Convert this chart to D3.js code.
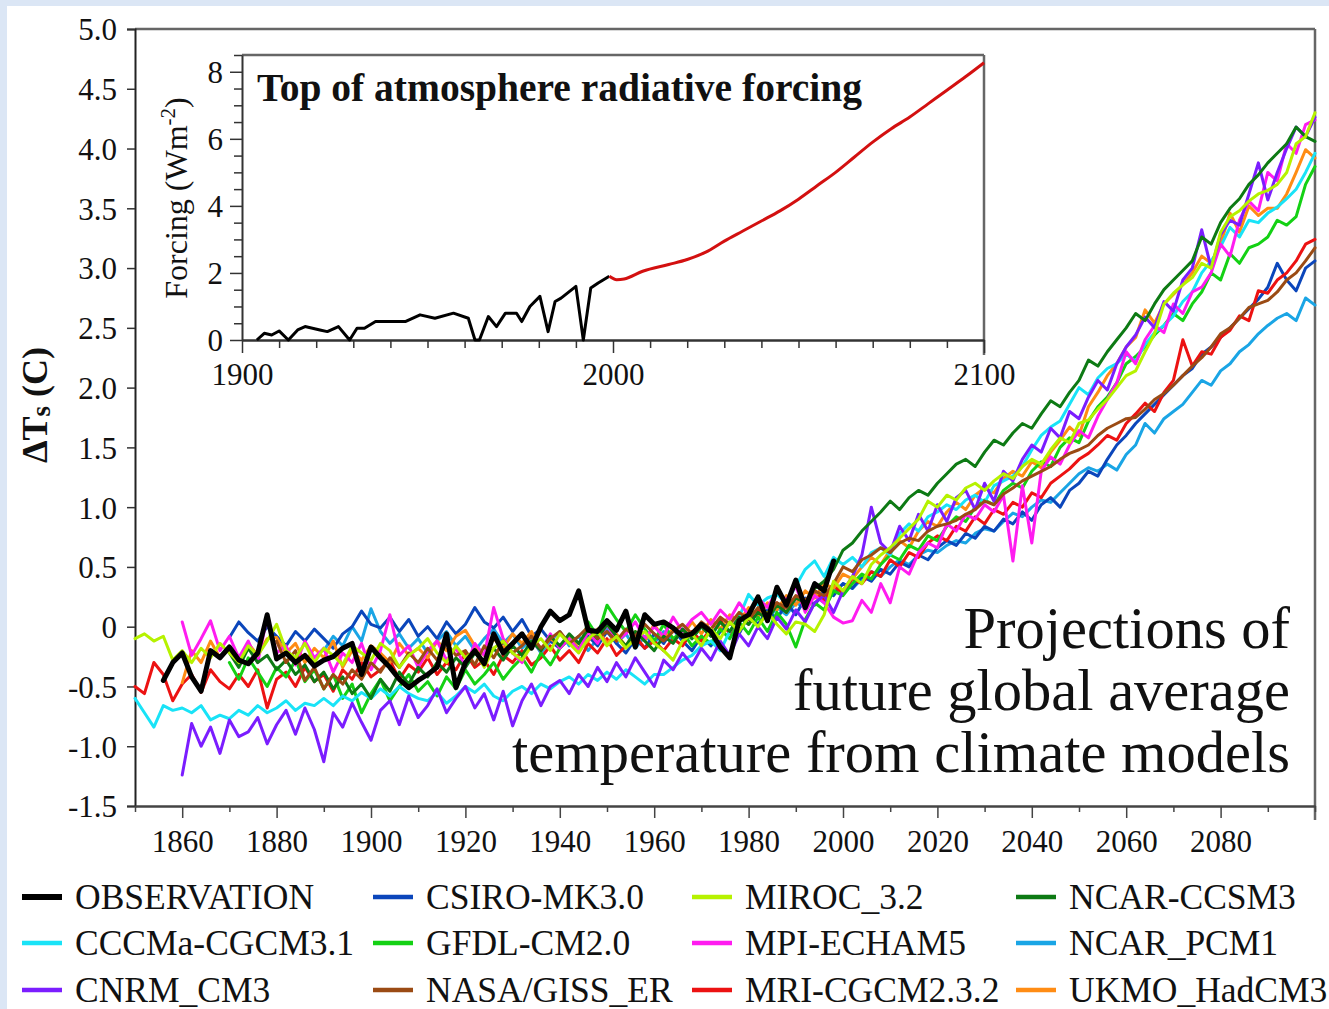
<!DOCTYPE html>
<html><head><meta charset="utf-8">
<script src="https://cdn.jsdelivr.net/npm/d3@7"></script>
<style>
html,body{margin:0;padding:0;background:#dbe6f5;}
svg{display:block;}
text{font-family:"Liberation Serif","Times New Roman",serif;fill:#111;}
</style></head><body>
<svg id="chart" width="1329" height="1009"></svg>
<script>
// ---------------- DATA ----------------
const yTickValues = [5.0,4.5,4.0,3.5,3.0,2.5,2.0,1.5,1.0,0.5,0,-0.5,-1.0,-1.5];
const yTickLabels = ["5.0","4.5","4.0","3.5","3.0","2.5","2.0","1.5","1.0","0.5","0","-0.5","-1.0","-1.5"];
const xMajorTicks = [1860,1880,1900,1920,1940,1960,1980,2000,2020,2040,2060,2080];
const xMinorTicks = [1850,1870,1890,1910,1930,1950,1970,1990,2010,2030,2050,2070,2090,2100];

const insetYMajor = [0,2,4,6,8];
const insetYMinor = [0.5,1,1.5,2.5,3,3.5,4.5,5,5.5,6.5,7,7.5,8.5];
const insetXLabels = [1900,2000,2100];
const insetXMinor = [1910,1920,1930,1940,1950,1960,1970,1980,1990,2010,2020,2030,2040,2050,2060,2070,2080,2090];

// Inset: top of atmosphere radiative forcing (W m-2)
const forcingHistYears = [1904,1906,1908,1910,1912.5,1915,1917,1921,1923,1926,1929,1931,1933,1936,1940,1944,1948,1952,1957,1961,1962.8,1964,1966.4,1968.6,1971,1974,1975.4,1977.6,1980.3,1982.5,1984.4,1986,1990,1992,1994,1996,1999];
const forcingHistVals  = [0.0,0.2,0.15,0.27,0.0,0.3,0.4,0.3,0.25,0.4,0.0,0.35,0.35,0.55,0.55,0.55,0.75,0.65,0.8,0.65,0.0,0.0,0.7,0.4,0.8,0.8,0.55,1.0,1.3,0.25,1.15,1.25,1.6,0.0,1.55,1.7,1.9];
const forcingProjYears = [1999,2001,2003,2008,2015,2020,2025,2030,2035,2040,2045,2050,2055,2060,2065,2070,2075,2080,2085,2090,2095,2100];
const forcingProjVals  = [1.9,1.8,1.82,2.05,2.25,2.4,2.62,2.95,3.25,3.55,3.85,4.2,4.6,5.0,5.45,5.9,6.3,6.65,7.05,7.45,7.85,8.27];

// Observation (every 2 years from 1856)
const obsStart = 1856;
const obsVals = [-0.45,-0.30,-0.22,-0.42,-0.54,-0.20,-0.26,-0.17,-0.28,-0.31,-0.22,0.10,-0.27,-0.22,-0.30,-0.24,-0.33,-0.28,-0.25,-0.18,-0.14,-0.40,
 -0.17,-0.26,-0.34,-0.44,-0.51,-0.45,-0.40,-0.34,-0.06,-0.51,-0.30,-0.20,-0.31,-0.06,-0.22,-0.14,-0.06,-0.18,0.00,0.13,0.05,0.10,0.30,-0.03,-0.04,0.05,-0.03,0.13,
 -0.17,0.10,0.02,0.04,-0.01,-0.08,-0.06,0.02,-0.04,-0.17,-0.26,0.05,0.10,0.25,0.05,0.33,0.18,0.39,0.16,0.36,0.30,0.55];

// Models (every 2 years from start year to 2100)
const cccmaVals = [-0.60,-0.72,-0.84,-0.66,-0.70,-0.68,-0.72,-0.66,-0.78,-0.74,-0.77,
 -0.70,-0.74,-0.66,-0.72,-0.68,-0.62,-0.70,-0.64,-0.66,-0.60,-0.66,-0.58,-0.62,-0.55,-0.60,
 -0.52,-0.58,-0.50,-0.56,-0.60,-0.62,-0.55,-0.64,-0.58,-0.50,-0.55,-0.48,-0.58,-0.62,-0.54,
 -0.50,-0.56,-0.48,-0.52,-0.46,-0.42,-0.48,-0.40,-0.45,-0.38,-0.44,-0.36,-0.42,-0.48,-0.40,
 -0.40,-0.34,-0.28,-0.24,-0.16,-0.12,-0.20,-0.04,0.08,0.27,0.18,0.24,0.27,0.20,0.34,
 0.48,0.55,0.42,0.58,0.52,0.58,0.50,0.62,0.66,0.60,0.78,0.86,0.80,0.92,0.96,
 1.02,0.98,1.06,1.10,1.04,1.18,1.22,1.26,1.34,1.48,1.60,1.67,1.72,1.86,2.00,
 1.94,2.08,2.16,2.20,2.28,2.22,2.36,2.46,2.52,2.60,2.72,2.80,2.96,3.06,3.18,
 3.34,3.26,3.40,3.38,3.46,3.51,3.58,3.66,3.80,3.96];
const mirocVals = [-0.10,-0.06,-0.12,-0.08,-0.28,-0.20,-0.30,-0.18,-0.26,-0.14,-0.22,
 -0.30,-0.16,-0.24,-0.12,0.02,-0.20,-0.26,-0.14,-0.30,-0.18,-0.24,-0.32,-0.16,-0.22,-0.28,
 -0.14,-0.20,-0.34,-0.24,-0.18,-0.10,-0.22,-0.30,-0.16,-0.26,-0.20,-0.34,-0.18,-0.12,-0.22,
 -0.28,-0.16,-0.10,-0.20,-0.06,-0.14,-0.22,-0.10,-0.04,-0.16,-0.08,-0.18,-0.10,-0.04,-0.14,
 -0.20,-0.28,-0.12,-0.06,-0.16,-0.02,-0.10,0.04,-0.04,0.08,0.00,0.12,0.02,-0.06,0.04,
 0.02,-0.04,0.10,0.38,0.30,0.42,0.36,0.52,0.60,0.66,0.74,0.82,0.90,1.05,1.00,
 1.10,1.06,1.16,1.20,1.14,1.22,1.28,1.24,1.34,1.40,1.36,1.48,1.58,1.54,1.70,
 1.73,1.82,1.90,2.00,2.10,2.14,2.30,2.45,2.70,2.79,2.86,2.92,3.04,3.00,3.30,
 3.43,3.48,3.56,3.62,3.65,3.70,3.80,4.04,4.10,4.30];
const mriVals = [-0.50,-0.56,-0.30,-0.40,-0.62,-0.48,-0.40,-0.55,-0.36,-0.46,-0.52,
 -0.40,-0.50,-0.36,-0.68,-0.44,-0.38,-0.50,-0.34,-0.46,-0.40,-0.54,-0.36,-0.44,-0.30,-0.42,
 -0.36,-0.28,-0.44,-0.32,-0.38,-0.26,-0.40,-0.30,-0.36,-0.22,-0.34,-0.28,-0.40,-0.24,-0.30,
 -0.20,-0.32,-0.26,-0.16,-0.28,-0.20,-0.30,-0.14,-0.22,-0.10,-0.24,-0.16,-0.08,-0.18,-0.12,
 -0.20,-0.10,-0.16,-0.04,-0.12,-0.02,0.06,-0.06,0.10,0.02,0.14,0.08,0.20,0.12,0.24,
 0.18,0.30,0.22,0.34,0.28,0.40,0.36,0.46,0.42,0.56,0.50,0.62,0.58,0.70,0.76,
 0.72,0.84,0.80,0.92,0.86,0.98,0.94,1.04,1.00,1.12,1.08,1.20,1.26,1.32,1.40,
 1.45,1.52,1.60,1.56,1.70,1.78,1.87,1.80,1.96,2.06,2.40,2.18,2.30,2.28,2.42,
 2.48,2.60,2.56,2.81,2.79,2.90,2.96,3.06,3.20,3.24];
const cnrmVals = [-1.24,-0.81,-1.00,-0.84,-1.06,-0.78,-0.92,-0.88,-0.76,-0.98,-0.82,
 -0.70,-0.90,-0.68,-0.86,-1.13,-0.72,-0.84,-0.64,-0.80,-0.95,-0.70,-0.62,-0.82,-0.58,-0.76,
 -0.66,-0.52,-0.72,-0.60,-0.50,-0.68,-0.56,-0.78,-0.54,-0.83,-0.62,-0.48,-0.66,-0.50,-0.45,
 -0.56,-0.40,-0.50,-0.34,-0.46,-0.30,-0.42,-0.26,-0.38,-0.50,-0.28,-0.36,-0.22,-0.32,-0.18,
 -0.28,-0.12,-0.24,-0.06,-0.16,0.00,-0.10,0.08,-0.02,0.14,0.04,0.20,0.26,0.12,0.30,
 0.42,0.60,1.00,0.70,0.62,0.84,0.72,0.94,0.80,1.02,0.88,1.08,1.14,0.98,1.20,
 1.05,1.30,1.22,1.40,1.52,1.46,1.66,1.58,1.80,1.74,1.92,2.06,1.98,2.20,2.34,
 2.44,2.59,2.50,2.72,2.64,2.90,3.00,3.32,3.00,3.28,3.40,3.36,3.62,3.88,3.57,
 3.80,4.00,4.18,4.10,4.26];
const mpiVals = [0.04,-0.24,-0.10,0.05,-0.20,-0.08,-0.26,-0.12,-0.30,0.08,-0.22,
 -0.16,-0.32,-0.12,-0.26,-0.18,-0.38,-0.22,-0.30,-0.14,-0.36,-0.20,0.10,-0.24,-0.16,-0.34,
 -0.20,-0.12,-0.28,-0.18,-0.34,-0.14,-0.24,0.16,-0.10,-0.22,-0.30,-0.12,-0.20,-0.06,-0.18,
 -0.10,-0.20,-0.04,-0.14,0.02,-0.12,-0.06,0.04,-0.10,0.00,-0.08,0.08,-0.04,0.06,0.12,
 0.02,0.14,0.06,0.20,0.10,0.24,0.16,0.30,0.22,0.34,0.12,0.26,0.20,0.08,0.03,
 0.05,0.22,0.12,0.36,0.20,0.50,0.44,0.62,0.70,0.66,0.86,0.80,0.94,0.90,1.02,
 0.96,1.10,0.55,1.18,0.70,1.30,1.42,1.36,1.52,1.64,1.58,1.76,1.90,2.04,2.30,
 2.20,2.40,2.52,2.46,2.70,2.62,2.80,2.84,2.96,3.20,3.10,3.40,3.56,3.48,3.80,
 3.73,4.04,3.96,4.20,4.24];
const ukmoVals = [-0.47,-0.20,-0.30,-0.12,-0.26,-0.18,-0.32,-0.14,-0.24,-0.10,-0.09,
 -0.22,-0.14,-0.30,-0.18,-0.26,-0.12,-0.34,-0.20,-0.28,-0.16,-0.22,-0.30,-0.14,-0.24,-0.18,
 -0.26,-0.12,-0.20,-0.08,-0.03,-0.16,-0.24,-0.10,-0.18,-0.06,-0.14,-0.04,-0.20,-0.10,-0.16,
 -0.08,-0.18,-0.12,-0.02,-0.14,-0.06,-0.16,-0.04,-0.12,0.02,-0.10,-0.02,-0.08,0.04,-0.06,
 0.06,-0.02,0.10,0.04,0.16,0.08,0.20,0.14,0.26,0.18,0.30,0.24,0.36,0.32,0.44,
 0.40,0.50,0.58,0.52,0.64,0.72,0.66,0.80,0.88,0.84,0.96,1.04,0.98,1.10,1.16,
 1.12,1.24,1.30,1.26,1.38,1.33,1.46,1.56,1.67,1.60,1.84,1.96,2.10,2.20,2.34,
 2.42,2.65,2.54,2.70,2.78,2.86,2.96,3.10,3.04,3.20,3.46,3.30,3.52,3.44,3.50,
 3.50,3.62,3.80,3.99,3.92];
const csiroVals = [-0.09,0.04,-0.05,-0.12,0.00,-0.08,
 -0.16,-0.04,-0.12,-0.02,-0.10,-0.18,-0.06,0.00,0.13,0.02,-0.01,0.08,-0.04,0.06,-0.08,
 0.00,-0.10,0.04,-0.06,0.02,0.16,0.04,-0.01,0.08,-0.04,0.06,-0.08,-0.02,-0.12,-0.18,
 -0.10,-0.20,-0.08,-0.16,-0.04,-0.14,-0.22,-0.10,-0.18,-0.06,-0.14,-0.02,-0.12,-0.20,-0.08,
 -0.16,-0.04,0.04,-0.06,0.10,0.02,0.14,0.06,0.20,0.10,0.24,0.18,0.30,0.26,0.36,
 0.32,0.42,0.38,0.48,0.44,0.54,0.50,0.60,0.56,0.66,0.72,0.68,0.78,0.74,0.84,
 0.80,0.90,0.86,0.96,0.89,1.02,1.08,1.00,1.14,1.20,1.30,1.26,1.40,1.52,1.60,
 1.70,1.78,1.86,1.94,2.02,2.10,2.16,2.28,2.34,2.42,2.50,2.58,2.66,2.74,2.84,
 3.04,2.90,2.81,3.00,3.06];
const gfdlVals = [-0.30,-0.44,-0.26,-0.38,-0.50,-0.34,
 -0.42,-0.28,-0.46,-0.36,-0.52,-0.40,-0.60,-0.48,-0.72,-0.56,-0.44,-0.62,-0.50,-0.40,-0.54,
 -0.46,-0.58,-0.42,-0.52,-0.36,-0.48,-0.40,-0.30,-0.44,-0.34,-0.26,-0.38,-0.22,-0.32,-0.18,
 -0.10,-0.20,0.04,-0.08,0.18,0.06,-0.04,0.10,-0.02,-0.12,0.02,-0.10,-0.04,-0.16,-0.08,
 -0.14,-0.02,-0.10,0.04,-0.06,0.08,-0.04,0.12,0.02,-0.17,0.06,0.20,0.14,0.30,0.26,
 0.36,0.44,0.40,0.52,0.60,0.56,0.68,0.64,0.76,0.72,0.84,0.92,0.88,1.00,1.06,
 1.02,1.14,1.20,1.16,1.30,1.38,1.34,1.50,1.58,1.54,1.72,1.84,1.92,2.04,2.20,
 2.26,2.34,2.44,2.52,2.62,2.56,2.70,2.80,2.96,2.90,3.12,3.04,3.17,3.20,3.26,
 3.40,3.36,3.43,3.70,3.85];
const ccsmVals = [-0.22,-0.34,-0.18,-0.30,-0.24,-0.36,
 -0.28,-0.40,-0.32,-0.46,-0.38,-0.52,-0.42,-0.56,-0.48,-0.60,-0.44,-0.54,-0.38,-0.48,-0.34,
 -0.42,-0.30,-0.38,-0.26,-0.34,-0.22,-0.30,-0.18,-0.28,-0.16,-0.24,-0.12,-0.20,-0.08,-0.16,
 -0.06,-0.14,-0.02,-0.10,0.02,-0.08,-0.16,-0.04,-0.12,-0.20,-0.08,-0.14,-0.02,-0.10,0.00,
 -0.08,0.04,-0.04,0.08,0.02,0.12,0.06,0.18,0.12,0.24,0.20,0.32,0.38,0.48,0.64,
 0.70,0.80,0.88,0.96,1.05,0.98,1.08,1.14,1.10,1.20,1.28,1.36,1.40,1.34,1.46,
 1.56,1.52,1.62,1.70,1.66,1.78,1.89,1.84,1.96,2.06,2.23,2.18,2.30,2.40,2.50,
 2.62,2.56,2.70,2.82,2.90,2.98,3.06,3.26,3.20,3.38,3.50,3.58,3.70,3.78,3.88,
 3.96,4.04,4.18,4.10,4.06];
const gissVals = [-0.12,-0.30,-0.20,-0.45,-0.34,-0.52,-0.40,-0.48,-0.36,-0.44,-0.30,
 -0.38,-0.26,-0.34,-0.22,-0.30,-0.18,-0.28,-0.14,-0.24,-0.20,-0.32,-0.16,-0.26,-0.12,-0.22,
 -0.16,-0.08,-0.18,-0.10,-0.04,-0.14,-0.08,0.00,-0.10,-0.04,-0.12,-0.02,-0.08,0.02,-0.06,
 -0.12,-0.04,0.02,-0.06,0.04,-0.02,0.08,0.02,0.12,0.06,0.16,0.10,0.20,0.16,0.26,
 0.22,0.30,0.26,0.36,0.50,0.46,0.56,0.60,0.66,0.62,0.70,0.74,0.72,0.80,0.84,
 0.86,0.89,0.94,0.98,1.05,1.02,1.11,1.16,1.22,1.26,1.30,1.34,1.40,1.45,1.48,
 1.52,1.60,1.66,1.70,1.74,1.75,1.82,1.90,1.95,2.02,2.10,2.18,2.25,2.34,2.45,
 2.50,2.58,2.67,2.70,2.73,2.80,2.90,2.96,3.06,3.17];
const pcmVals = [-0.20,-0.08,-0.16,0.00,-0.12,0.15,
 -0.04,-0.14,-0.06,-0.18,-0.10,-0.22,-0.12,-0.04,-0.16,-0.08,-0.20,-0.10,-0.02,-0.14,-0.06,
 -0.18,-0.10,-0.22,-0.12,-0.04,-0.16,-0.08,-0.20,-0.10,-0.02,-0.14,-0.06,-0.18,-0.08,-0.14,
 -0.04,-0.12,-0.02,-0.10,0.00,-0.08,0.04,-0.04,0.08,0.02,0.12,0.06,0.16,0.10,0.20,
 0.16,0.26,0.20,0.30,0.36,0.32,0.40,0.46,0.42,0.50,0.56,0.52,0.60,0.64,0.62,
 0.68,0.72,0.70,0.78,0.82,0.80,0.88,0.95,0.92,1.00,1.06,1.04,1.12,1.20,1.28,
 1.33,1.30,1.36,1.31,1.44,1.52,1.70,1.62,1.74,1.80,1.86,1.96,2.06,2.02,2.14,
 2.20,2.30,2.36,2.45,2.52,2.58,2.62,2.56,2.75,2.69];

// Legend order (column-major) and styles
const legendNames  = ["OBSERVATION","CCCMa-CGCM3.1","CNRM_CM3","CSIRO-MK3.0","GFDL-CM2.0","NASA/GISS_ER","MIROC_3.2","MPI-ECHAM5","MRI-CGCM2.3.2","NCAR-CCSM3","NCAR_PCM1","UKMO_HadCM3"];
const legendColors = ["#000000","#19e3f7","#7b1dff","#0b46bb","#14d114","#9b4b14","#b6f200","#ff1cf0","#ec1212","#0d7a14","#1aa5e5","#ff8c14"];

// Models drawn bottom-to-top
const modelNames  = ["NCAR_PCM1","CSIRO-MK3.0","MRI-CGCM2.3.2","UKMO_HadCM3","GFDL-CM2.0","CCCMa-CGCM3.1","MPI-ECHAM5","CNRM_CM3","NCAR-CCSM3","NASA/GISS_ER","MIROC_3.2"];
const modelStarts = [1890,1870,1850,1860,1870,1850,1860,1860,1870,1880,1850];
const modelValues = [pcmVals,csiroVals,mriVals,ukmoVals,gfdlVals,cccmaVals,mpiVals,cnrmVals,ccsmVals,gissVals,mirocVals];

const annotationLines = ["Projections of","future global average","temperature from climate models"];

// ---------------- DRAW ----------------
const svg = d3.select("#chart");
const W = 1329, H = 1009;
svg.append("rect").attr("width",W).attr("height",H).attr("fill","#dbe6f5");
svg.append("rect").attr("x",7).attr("y",6).attr("width",W-7).attr("height",H-6).attr("fill","#ffffff");

const colorOf = n => legendColors[legendNames.indexOf(n)];

const x = d3.scaleLinear().domain([1850,2100]).range([135,1315]);
const y = d3.scaleLinear().domain([-1.5,5]).range([806,29]);

// frame top & right
svg.append("line").attr("x1",135).attr("x2",1315).attr("y1",y(5)).attr("y2",y(5)).attr("stroke","#666").attr("stroke-width",2.5);
svg.append("line").attr("x1",1315).attr("x2",1315).attr("y1",y(5)).attr("y2",y(-1.5)+14).attr("stroke","#666").attr("stroke-width",2.5);

// y axis
const yAxis = svg.append("g").attr("transform","translate(135,0)")
  .call(d3.axisLeft(y).tickValues(yTickValues).tickFormat((d,i)=>yTickLabels[i]).tickSize(8).tickPadding(10));
yAxis.select(".domain").attr("stroke","#222").attr("stroke-width",2);
yAxis.selectAll(".tick line").attr("stroke","#333").attr("stroke-width",1.5);
yAxis.selectAll("text").attr("font-size",31).attr("fill","#111").attr("dy","0.35em")
  .style("font-family","'Liberation Serif',serif");

// x axis
const xAxis = svg.append("g").attr("transform",`translate(0,${y(-1.5)})`)
  .call(d3.axisBottom(x).tickValues(xMajorTicks).tickFormat(d3.format("d")).tickSize(12).tickPadding(12).tickSizeOuter(0));
xAxis.select(".domain").attr("stroke","#444").attr("stroke-width",2.5);
xAxis.selectAll(".tick line").attr("stroke","#444").attr("stroke-width",1.5);
xAxis.selectAll("text").attr("font-size",31).attr("fill","#111").style("font-family","'Liberation Serif',serif");
const xMinor = svg.append("g").attr("transform",`translate(0,${y(-1.5)})`)
  .call(d3.axisBottom(x).tickValues(xMinorTicks).tickFormat("").tickSize(6).tickSizeOuter(0));
xMinor.select(".domain").remove();
xMinor.selectAll(".tick line").attr("stroke","#444").attr("stroke-width",1.5);

// y axis title
const yt = svg.append("text").attr("transform","translate(47,405) rotate(-90)")
  .attr("text-anchor","middle").attr("font-weight","bold").attr("font-size",36);
yt.append("tspan").text("ΔT");
yt.append("tspan").attr("font-size",27).attr("dy",3).text("s");
yt.append("tspan").attr("dy",-3).text(" (C)");

// model lines
const line = d3.line().x(d=>x(d[0])).y(d=>y(d[1]));
const linesG = svg.append("g").attr("fill","none").attr("stroke-linejoin","round").attr("stroke-linecap","round");
modelNames.forEach((name,k)=>{
  const pts = modelValues[k].map((v,i)=>[modelStarts[k]+2*i, v]);
  linesG.append("path").datum(pts).attr("d",line).attr("stroke",colorOf(name)).attr("stroke-width",3);
});
const obsPts = obsVals.map((v,i)=>[obsStart+2*i, v]);
linesG.append("path").datum(obsPts).attr("d",line).attr("stroke","#000").attr("stroke-width",5);

// annotation
const ann = svg.append("text").attr("text-anchor","end").attr("font-size",58.5).attr("fill","#000");
annotationLines.forEach((t,i)=>{
  ann.append("tspan").attr("x",1290).attr("y",648+i*62).text(t);
});

// ---------------- INSET ----------------
const ix = d3.scaleLinear().domain([1900,2100]).range([242,984]);
const iy = d3.scaleLinear().domain([0,8.5]).range([340,55]);
const inset = svg.append("g");
inset.append("rect").attr("x",ix(1900)).attr("y",iy(8.5)).attr("width",ix(2100)-ix(1900)).attr("height",iy(0)-iy(8.5)).attr("fill","#fff");
inset.append("line").attr("x1",ix(1900)).attr("x2",ix(2100)).attr("y1",iy(8.5)).attr("y2",iy(8.5)).attr("stroke","#666").attr("stroke-width",2.5);
inset.append("line").attr("x1",ix(2100)).attr("x2",ix(2100)).attr("y1",iy(8.5)).attr("y2",iy(0)+15).attr("stroke","#666").attr("stroke-width",2.5);

const iyAxis = inset.append("g").attr("transform",`translate(${ix(1900)},0)`)
  .call(d3.axisLeft(iy).tickValues(insetYMajor).tickFormat(d3.format("d")).tickSize(12).tickPadding(7).tickSizeOuter(0));
iyAxis.select(".domain").attr("stroke","#333").attr("stroke-width",2);
iyAxis.selectAll(".tick line").attr("stroke","#333").attr("stroke-width",1.5);
iyAxis.selectAll("text").attr("font-size",31).attr("fill","#111").attr("dy","0.35em").style("font-family","'Liberation Serif',serif");
const iyMinor = inset.append("g").attr("transform",`translate(${ix(1900)},0)`)
  .call(d3.axisLeft(iy).tickValues(insetYMinor).tickFormat("").tickSize(8).tickSizeOuter(0));
iyMinor.select(".domain").remove();
iyMinor.selectAll(".tick line").attr("stroke","#333").attr("stroke-width",1.5);

const ixAxis = inset.append("g").attr("transform",`translate(0,${iy(0)})`)
  .call(d3.axisBottom(ix).tickValues(insetXLabels).tickFormat(d3.format("d")).tickSize(13).tickPadding(10).tickSizeOuter(0));
ixAxis.select(".domain").attr("stroke","#333").attr("stroke-width",2.5);
ixAxis.selectAll(".tick line").attr("stroke","#333").attr("stroke-width",1.5);
ixAxis.selectAll("text").attr("font-size",31).attr("fill","#111").style("font-family","'Liberation Serif',serif");
const ixMinor = inset.append("g").attr("transform",`translate(0,${iy(0)})`)
  .call(d3.axisBottom(ix).tickValues(insetXMinor).tickFormat("").tickSize(8).tickSizeOuter(0));
ixMinor.select(".domain").remove();
ixMinor.selectAll(".tick line").attr("stroke","#333").attr("stroke-width",1.5);

const iline = d3.line().x(d=>ix(d[0])).y(d=>iy(d[1]));
inset.append("path").datum(forcingHistYears.map((yr,i)=>[yr,forcingHistVals[i]])).attr("d",iline)
  .attr("fill","none").attr("stroke","#000").attr("stroke-width",3).attr("stroke-linejoin","round");
inset.append("path").datum(forcingProjYears.map((yr,i)=>[yr,forcingProjVals[i]])).attr("d",d3.line().curve(d3.curveMonotoneX).x(d=>ix(d[0])).y(d=>iy(d[1])))
  .attr("fill","none").attr("stroke","#d31010").attr("stroke-width",3).attr("stroke-linejoin","round");

inset.append("text").attr("x",257).attr("y",101).attr("font-weight","bold").attr("font-size",39.5).attr("fill","#000")
  .text("Top of atmosphere radiative forcing");
const ft = inset.append("text").attr("transform","translate(187,198) rotate(-90)").attr("text-anchor","middle").attr("font-size",32);
ft.append("tspan").text("Forcing (Wm");
ft.append("tspan").attr("font-size",21).attr("dy",-12).text("-2");
ft.append("tspan").attr("dy",12).text(")");

// ---------------- LEGEND ----------------
const colX = [22,373,692,1016];
const rowY = [897,943,990];
const leg = svg.append("g");
legendNames.forEach((n,i)=>{
  const c = Math.floor(i/3), r = i%3;
  const g = leg.append("g").attr("transform",`translate(${colX[c]},${rowY[r]})`);
  g.append("line").attr("x1",0).attr("x2",40).attr("y1",0).attr("y2",0)
    .attr("stroke",legendColors[i]).attr("stroke-width", i===0?6:4.5);
  g.append("text").attr("x",53).attr("y",0).attr("dy","0.35em").attr("font-size",35.5).attr("fill","#111").text(n);
});
</script>
</body></html>
